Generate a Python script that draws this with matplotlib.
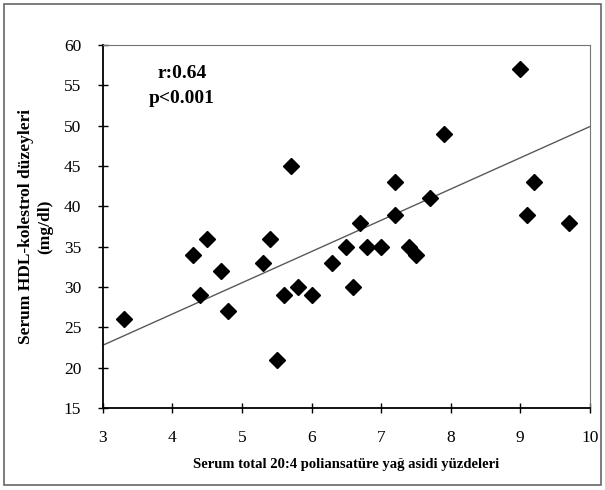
import numpy as np
import matplotlib.pyplot as plt
from matplotlib.patches import Rectangle

# serum total 20:4 percent vs HDL-cholesterol (mg/dl)
aa_pct = [3.3, 4.3, 4.4, 4.5, 4.7, 4.8, 5.3, 5.4, 5.5, 5.6, 5.7, 5.8, 6.0, 6.3, 6.5,
          6.6, 6.7, 6.8, 7.0, 7.2, 7.2, 7.4, 7.5, 7.7, 7.9, 9.0, 9.1, 9.2, 9.7]
hdl = [26, 34, 29, 36, 32, 27, 33, 36, 21, 29, 45, 30, 29, 33, 35,
       30, 38, 35, 35, 39, 43, 35, 34, 41, 49, 57, 39, 43, 38]
# trend line as printed, read at x = 3 and x = 10
trend_x = [3, 10]
trend_y = [22.8, 49.9]
x_ticks = [3, 4, 5, 6, 7, 8, 9, 10]
y_ticks = [15, 20, 25, 30, 35, 40, 45, 50, 55, 60]

plt.rcParams['font.family'] = ['Liberation Serif', 'DejaVu Serif']

fig = plt.figure(figsize=(6.05, 4.9), dpi=100)
ax = fig.add_axes([0.170, 0.167, 0.805, 0.741])

ax.plot(trend_x, trend_y, color='0.35', lw=1.0, zorder=2)
ax.plot(aa_pct, hdl, linestyle='none', marker='D', ms=8.5, color='black', zorder=3)

ax.set_xlim(x_ticks[0], x_ticks[-1])
ax.set_ylim(y_ticks[0], y_ticks[-1])
ax.set_xticks(x_ticks)
ax.set_yticks(y_ticks)
ax.tick_params(direction='inout', length=7, width=1, labelsize=12.5)
ax.tick_params(axis='y', pad=12)
ax.tick_params(axis='x', pad=12)

for side in ['top', 'right']:
    ax.spines[side].set_color('0.45')
    ax.spines[side].set_linewidth(0.8)
for side in ['left', 'bottom']:
    ax.spines[side].set_linewidth(1.3)

ax.set_xlabel('Serum total 20:4 poliansatüre yağ asidi yüzdeleri',
              fontsize=10.5, fontweight='bold', labelpad=9)
ax.set_ylabel('Serum HDL-kolestrol düzeyleri\n(mg/dl)',
              fontsize=12.5, fontweight='bold', labelpad=8)

ax.text(0.162, 0.945, 'r:0.64\np<0.001', transform=ax.transAxes, ha='center', va='top',
        fontsize=14, fontweight='bold', linespacing=1.6)

fig.patches.append(Rectangle((0.006, 0.01), 0.988, 0.982, transform=fig.transFigure,
                             fill=False, edgecolor='0.4', lw=1.2))

fig.savefig('out.png', dpi=100)
